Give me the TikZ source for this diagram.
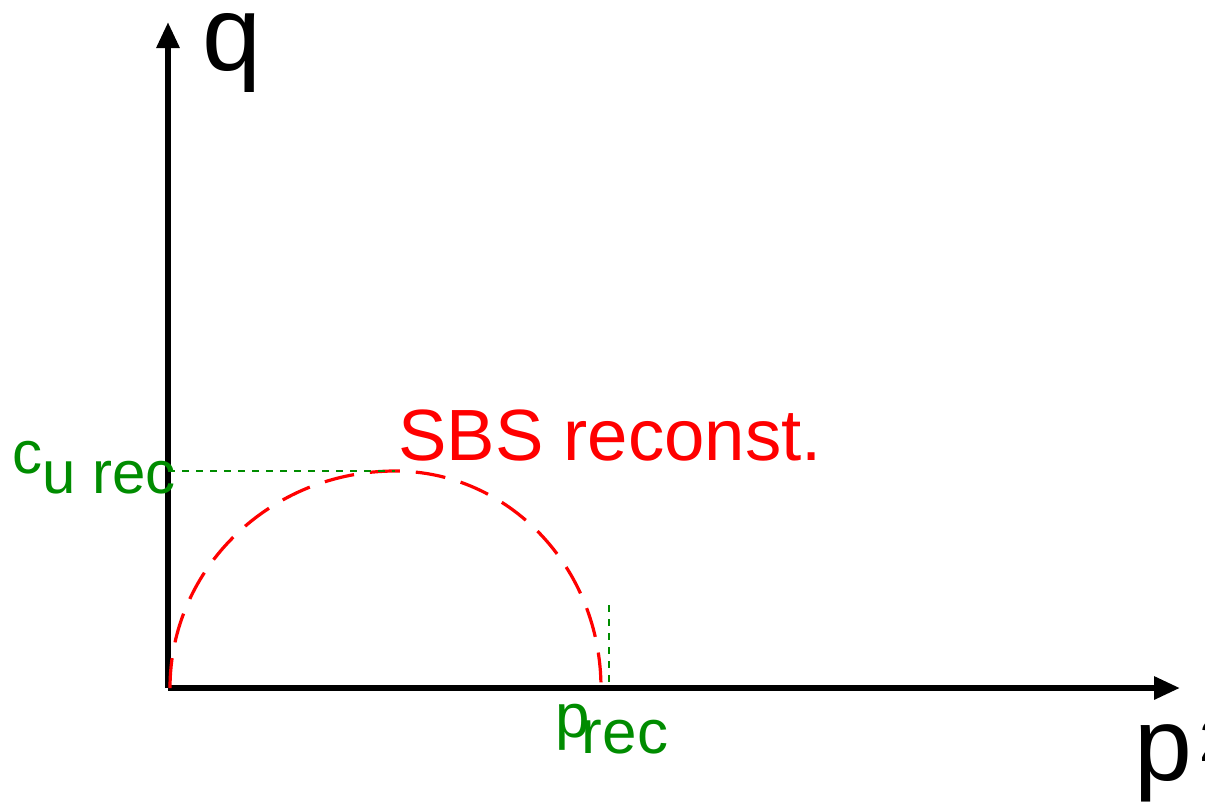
\documentclass[tikz,border=0pt]{standalone}
\usepackage{fontspec}
\setmainfont{Liberation Sans}
\usetikzlibrary{arrows.meta,positioning,calc}
\definecolor{recgreen}{RGB}{0,140,0}
\begin{document}
\begin{tikzpicture}[
  x=0.5pt, y=-0.5pt,
  axis/.style={line width=3pt, -{Triangle[length=13pt, width=11pt]}},
  guide/.style={recgreen, line width=0.7pt, dash pattern=on 3.5pt off 3.5pt},
  sbs/.style={red, line width=1.6pt, dash pattern=on 15pt off 8pt},
  lbl/.style={inner sep=0pt, anchor=base west}
]
\useasboundingbox (0,0) rectangle (1205,811);
\coordinate (O) at (168,688);
\coordinate (ytop) at (168,22);
\coordinate (xend) at (1180,688);
\coordinate (peak) at (395,471);
\coordinate (cu) at (168,471);
\coordinate (pend) at (601,688);
\coordinate (prec) at (609,688);
\coordinate (prectop) at (609,605);
\draw[axis] (O) -- (ytop);
\draw[axis] (O) -- (xend);
\node[lbl, font=\fontsize{53}{55}\selectfont] (q) at (202,70) {q};
\node[lbl, font=\fontsize{52}{54}\selectfont] (p) at (1134,780)
  {p\kern3.5pt\raisebox{9.5pt}{\fontsize{30}{30}\selectfont 2}};
% reconstructed region
\draw[sbs] (170,688) .. controls (170,568) and (271,471) .. (peak)
  .. controls (509,471) and (601,568) .. (pend);
\draw[guide] (cu) -- (peak);
\draw[guide] (prectop) -- (prec);
\node[lbl, red, font=\fontsize{36.3}{38}\selectfont] (sbslbl) at (398,460) {SBS reconst.};
\node[lbl, recgreen, font=\fontsize{30}{32}\selectfont] (culbl) at (12,473) {c\raisebox{-10pt}{u rec}};
\node[lbl, recgreen, font=\fontsize{31}{33}\selectfont] (preclbl) at (555,737) {p\kern-4pt\raisebox{-8pt}{rec}};
\end{tikzpicture}
\end{document}
